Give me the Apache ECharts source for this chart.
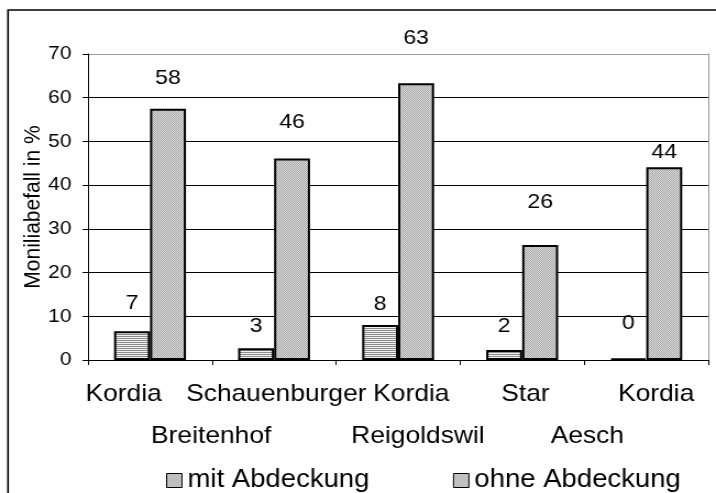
<!DOCTYPE html>
<html>
<head>
<meta charset="utf-8">
<script src="https://cdn.jsdelivr.net/npm/echarts@6/dist/echarts.min.js"></script>
<style>
  html, body { margin: 0; padding: 0; background: #fff; overflow: hidden; }
  /* source picture is an excel chart stretched a bit sideways, so draw narrower and stretch */
  #chart { width: 651px; height: 493px; transform: scaleX(1.0998); transform-origin: 0 0; }
</style>
</head>
<body>
<div id="chart"></div>
<script>
// data
var categories = ['Kordia', 'Schauenburger', 'Kordia', 'Star', 'Kordia'];
var groups = ['Breitenhof', 'Reigoldswil', 'Aesch'];
var mitAbdeckung = [6.6, 2.7, 8.0, 2.3, 0.3];
var ohneAbdeckung = [57.5, 46.1, 63.3, 26.3, 44.1];
var yMin = 0, yMax = 70, yStep = 10;

// layout bits (not data): value label lift above bar, category label nudge, group label x
var mitLift = [17, 11, 10, 13, 25];
var ohneLift = [20, 26, 35, 32, 5];
var catShift = [-24, 2, 12, 3, 9];
var groupX = [192, 380, 534];

var FONT = "'Liberation Sans', Arial, sans-serif";

// little canvas tiles for the excel-like fills
function makePattern(w, h, draw) {
  var c = document.createElement('canvas');
  c.width = w; c.height = h;
  draw(c.getContext('2d'));
  return { image: c, repeat: 'repeat' };
}
var stripes = makePattern(2, 2, function (ctx) {
  ctx.fillStyle = '#f2f2f2'; ctx.fillRect(0, 0, 2, 2);
  ctx.fillStyle = '#8a8a8a'; ctx.fillRect(0, 0, 2, 1);
});
var dots = makePattern(2, 2, function (ctx) {
  ctx.fillStyle = '#dedede'; ctx.fillRect(0, 0, 2, 2);
  ctx.fillStyle = '#a4a4a4'; ctx.fillRect(0, 0, 1, 1); ctx.fillRect(1, 1, 1, 1);
});

function withLabels(values, lifts) {
  return values.map(function (v, i) {
    return { value: v, label: { distance: lifts[i] } };
  });
}

// per-label rich styles so each category name can sit a little off centre like in excel
var catRich = {};
catShift.forEach(function (d, i) {
  catRich['c' + i] = {
    fontSize: 24, fontFamily: FONT, color: '#000',
    padding: d < 0 ? [0, -2 * d, 0, 0] : [0, 0, 0, 2 * d]
  };
});

// split line colours: black, top one gray like the plot border
var splitColors = [];
for (var v = yMin; v <= yMax; v += yStep) splitColors.push(v === yMax ? '#9a9a9a' : '#000');

var valueLabel = {
  show: true, position: 'top',
  color: '#000', fontSize: 21, fontFamily: FONT,
  formatter: function (p) { return Math.round(p.value); }
};

var chart = echarts.init(document.getElementById('chart'));
var option = {
  animation: false,
  textStyle: { fontFamily: FONT },
  grid: { left: 80, top: 54, right: 7, bottom: 133, containLabel: false },
  legend: {
    data: ['mit Abdeckung', 'ohne Abdeckung'],
    left: 146, top: 463,
    icon: 'rect', itemWidth: 14, itemHeight: 14, itemGap: 76,
    textStyle: { fontFamily: FONT, fontSize: 25, color: '#000' },
    itemStyle: { borderColor: '#000', borderWidth: 1 }
  },
  xAxis: {
    type: 'category',
    data: categories,
    axisLine: { lineStyle: { color: '#000', width: 1 } },
    axisTick: { show: true, length: 5, lineStyle: { color: '#000' } },
    axisLabel: {
      color: '#000', fontSize: 24, margin: 22, fontFamily: FONT, interval: 0,
      formatter: function (val, i) { return '{c' + i + '|' + val + '}'; },
      rich: catRich
    }
  },
  yAxis: [{
    type: 'value',
    min: yMin, max: yMax, interval: yStep,
    name: 'Moniliabefall in %',
    nameLocation: 'middle', nameGap: 39, nameRotate: 90, nameMoveOverlap: false,
    nameTextStyle: { color: '#000', fontSize: 21, fontFamily: FONT },
    axisLine: { show: true, lineStyle: { color: '#000', width: 1 } },
    axisTick: { show: true, length: 5, lineStyle: { color: '#000' } },
    axisLabel: { color: '#000', fontSize: 19, margin: 15, fontFamily: FONT },
    splitLine: { show: true, lineStyle: { color: splitColors, width: 1 } }
  }, {
    type: 'value',
    position: 'right',
    min: yMin, max: yMax, interval: yStep,
    axisLine: { show: true, lineStyle: { color: '#9a9a9a', width: 1 } },
    axisTick: { show: false },
    axisLabel: { show: false },
    splitLine: { show: false }
  }],
  series: [{
    name: 'mit Abdeckung',
    type: 'bar',
    data: withLabels(mitAbdeckung, mitLift),
    barGap: 0,
    barCategoryGap: '42%',
    itemStyle: { color: stripes, borderColor: '#000', borderWidth: 2 },
    label: valueLabel
  }, {
    name: 'ohne Abdeckung',
    type: 'bar',
    data: withLabels(ohneAbdeckung, ohneLift),
    itemStyle: { color: dots, borderColor: '#000', borderWidth: 2 },
    label: valueLabel
  }],
  graphic: [{
    type: 'rect',
    shape: { x: 7.3, y: 10, width: 700, height: 540 },
    style: { fill: null, stroke: '#000', lineWidth: 1.6 },
    silent: true
  }].concat(groups.map(function (g, i) {
    return {
      type: 'text',
      x: groupX[i], y: 436,
      style: { text: g, fontSize: 24, fontFamily: FONT, fill: '#000', align: 'center', verticalAlign: 'middle' },
      silent: true
    };
  }))
};
chart.setOption(option);
</script>
</body>
</html>
